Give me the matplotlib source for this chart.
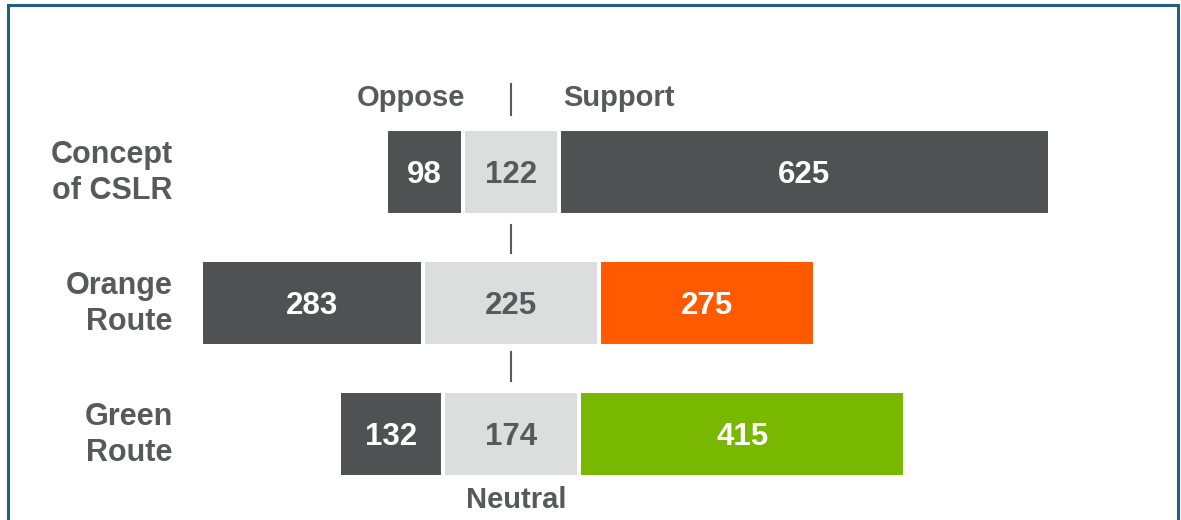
import matplotlib.pyplot as plt
from matplotlib.patches import Rectangle

plt.rcParams['font.family'] = ['Liberation Sans', 'DejaVu Sans']
plt.rcParams['font.weight'] = 'bold'

categories = ["Concept\nof CSLR", "Orange\nRoute", "Green\nRoute"]
oppose = [98, 283, 132]
neutral = [122, 225, 174]
support = [625, 275, 415]
support_colors = ["#505153", "#ff5a00", "#78b800"]

dark = "#505153"
light = "#dcdedd"
text_gray = "#58595b"

fig = plt.figure(figsize=(11.81, 5.20), dpi=100)
ax = fig.add_axes([0, 0, 1, 1])
ax.set_xlim(-651.0, 853.5)
ax.set_ylim(2.656, -1.313)
ax.axis("off")

h = 0.65
dy = 0.02  # nudge the numbers a little lower
for i in range(len(categories)):
    n = neutral[i]
    ax.barh(i, oppose[i], left=-n / 2 - oppose[i], height=h, color=dark,
            edgecolor="white", linewidth=2.9)
    ax.barh(i, n, left=-n / 2, height=h, color=light,
            edgecolor="white", linewidth=2.9)
    ax.barh(i, support[i], left=n / 2, height=h, color=support_colors[i],
            edgecolor="white", linewidth=2.9)
    ax.text(-n / 2 - oppose[i] / 2, i + dy, str(oppose[i]), ha="center", va="center",
            color="white", fontsize=22.5, fontweight="bold")
    ax.text(0, i + dy, str(n), ha="center", va="center",
            color=text_gray, fontsize=22.5, fontweight="bold")
    ax.text(n / 2 + support[i] / 2, i + dy, str(support[i]), ha="center", va="center",
            color="white", fontsize=22.5, fontweight="bold")
    ax.text(-431, i + 0.01, categories[i], ha="right", va="center", color=text_gray,
            fontsize=22, fontweight="bold", linespacing=1.25)

# centre ticks
for y0, y1 in [(-0.672, -0.435), (0.405, 0.618), (1.374, 1.595)]:
    ax.plot([0, 0], [y0, y1], color=text_gray, linewidth=1.5)

ax.text(-59, -0.565, "Oppose", ha="right", va="center", color=text_gray,
        fontsize=21, fontweight="bold")
ax.text(66, -0.565, "Support", ha="left", va="center", color=text_gray,
        fontsize=21, fontweight="bold")
ax.text(7, 2.5, "Neutral", ha="center", va="center", color=text_gray,
        fontsize=21, fontweight="bold")

fig.patches.append(Rectangle((8 / 1181, -0.1), 1170 / 1181, 1.1 - 5.5 / 520,
                             transform=fig.transFigure, fill=False,
                             edgecolor="#1f5f82", linewidth=2.2))

fig.savefig("out.png", dpi=100)
